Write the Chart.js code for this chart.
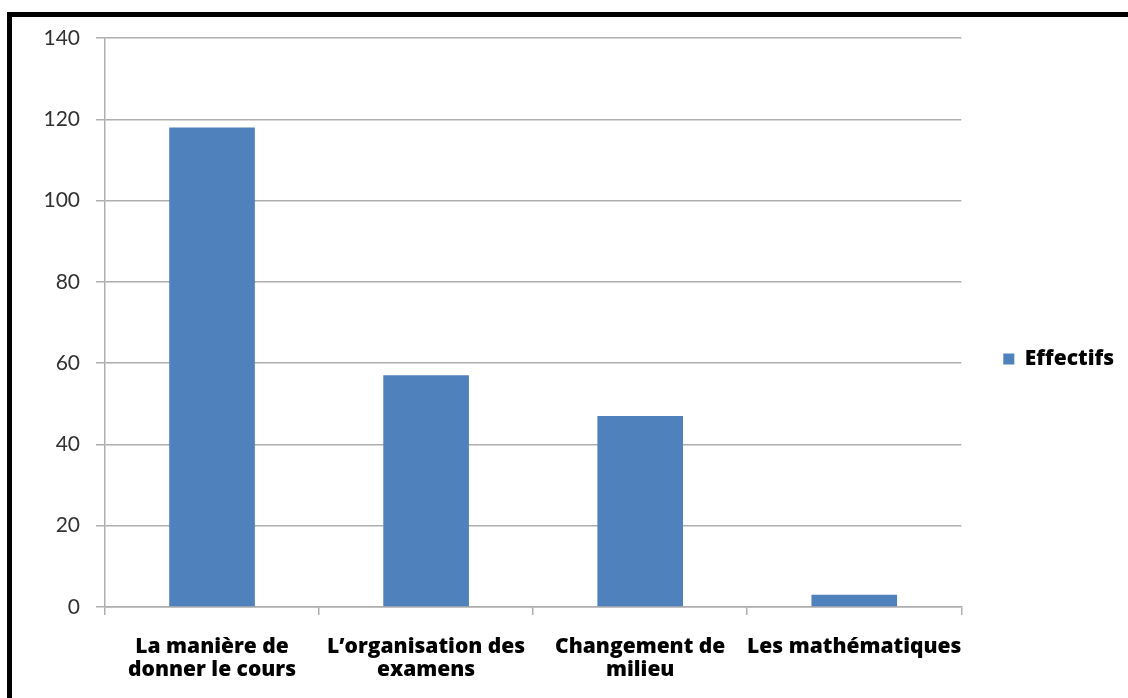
<!DOCTYPE html>
<html>
<head>
<meta charset="utf-8">
<script src="https://cdn.jsdelivr.net/npm/chart.js@4/dist/chart.umd.min.js"></script>
<style>
  html, body { margin: 0; padding: 0; background: #ffffff; overflow: hidden; }
  #wrap { position: relative; width: 1128px; height: 698px; }
  #frame { position: absolute; left: 7px; top: 12px; width: 1200px; height: 800px;
           border-left: 5px solid #000; border-top: 5px solid #000; box-sizing: border-box; }
  #c { position: absolute; left: 0; top: 0; }
</style>
</head>
<body>
<div id="wrap">
  <div id="frame"></div>
  <canvas id="c" width="1128" height="698"></canvas>
</div>
<script>
// ---- data ----
const categories = [
  ['La manière de', 'donner le cours'],
  ['L\u2019organisation des', 'examens'],
  ['Changement de', 'milieu'],
  'Les mathématiques'
];
const seriesName = 'Effectifs';
const effectifs = [118, 57, 47, 3];
const yMin = 0;
const yMax = 140;
const yStep = 20;

// ---- styles ----
const barColor = '#4f81bd';
const gridColor = '#aeaeae';
const labelFont = { family: 'Open Sans', size: 21, weight: 800, lineHeight: 1.1 };

new Chart(document.getElementById('c'), {
  type: 'bar',
  data: {
    labels: categories,
    datasets: [{
      label: seriesName,
      data: effectifs,
      backgroundColor: barColor,
      borderWidth: 0,
      barPercentage: 0.4,
      categoryPercentage: 1.0
    }]
  },
  options: {
    responsive: false,
    devicePixelRatio: 1,
    animation: false,
    layout: { padding: { left: 0, top: 38, right: 4, bottom: 18 } },
    plugins: {
      tooltip: { enabled: false },
      legend: {
        position: 'right',
        labels: {
          boxWidth: 11,
          boxHeight: 11,
          padding: 42,
          color: '#000',
          font: { family: 'Open Sans', size: 21, weight: 800 }
        }
      }
    },
    scales: {
      x: {
        afterFit: (s) => { s.height = 73; },
        grid: {
          display: true,
          drawOnChartArea: false,
          drawTicks: true,
          tickLength: 8,
          color: gridColor,
          lineWidth: 1.5
        },
        border: { display: true, color: gridColor, width: 1.5 },
        ticks: {
          color: '#000',
          padding: 20,
          maxRotation: 0,
          autoSkip: false,
          font: labelFont
        }
      },
      y: {
        min: yMin,
        max: yMax,
        afterFit: (s) => { s.width = 105; },
        grid: {
          color: gridColor,
          lineWidth: 1.5,
          drawTicks: true,
          tickLength: 9
        },
        border: { display: true, color: gridColor, width: 1.5 },
        ticks: {
          stepSize: yStep,
          color: '#333333',
          padding: 16,
          font: { family: 'Lato', size: 21 }
        }
      }
    }
  }
});
</script>
</body>
</html>
